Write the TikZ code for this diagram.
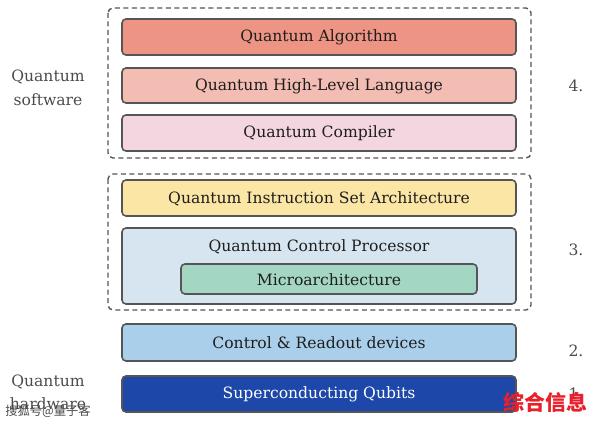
\documentclass[tikz,border=0pt]{standalone}
\usepackage{fontspec}
\setmainfont{DejaVu Serif}
\newfontfamily\cjk{Noto Sans CJK SC}
\definecolor{cAlg}{HTML}{EE9484}
\definecolor{cHL}{HTML}{F4BDB4}
\definecolor{cComp}{HTML}{F3D6E0}
\definecolor{cISA}{HTML}{FCE6A6}
\definecolor{cCP}{HTML}{D7E5F0}
\definecolor{cMicro}{HTML}{A4D6C4}
\definecolor{cCR}{HTML}{AACFEB}
\definecolor{cQ}{HTML}{1D48AA}
\definecolor{cBorder}{HTML}{555555}
\definecolor{cText}{HTML}{1E1E1E}
\definecolor{cRed}{HTML}{E8202A}
\tikzset{
  layer/.style={draw=cBorder, line width=1.6pt, rounded corners=4pt},
  group/.style={draw=cBorder, dash pattern=on 5pt off 3.5pt, line width=1.4pt, rounded corners=5pt},
  lbl/.style={font=\fontsize{15.6}{18}\selectfont, text=cText, inner sep=0pt},
  side/.style={font=\fontsize{15.6}{23.5}\selectfont, text=cText!80, align=center, inner sep=0pt},
  numlbl/.style={font=\fontsize{15.6}{18}\selectfont, text=cText!80, inner sep=0pt},
  wmark/.style={inner sep=0pt}
}
\begin{document}
\begin{tikzpicture}[x=1pt,y=-1pt]
\useasboundingbox (0,0) rectangle (594,422);
% groups
\draw[group] (108,8) rectangle (531,158);
\draw[group] (108,174) rectangle (531,310);
% layers
\draw[layer, fill=cAlg] (122,19) rectangle (516,55);
\node[lbl] (alg) at (319,37.5) {Quantum Algorithm};
\draw[layer, fill=cHL] (122,68) rectangle (516,103);
\node[lbl] (hl) at (319,86) {Quantum High-Level Language};
\draw[layer, fill=cComp] (122,115) rectangle (516,151);
\node[lbl] (comp) at (319,133.5) {Quantum Compiler};
\draw[layer, fill=cISA] (122,180) rectangle (516,216);
\node[lbl] (isa) at (319,198.5) {Quantum Instruction Set Architecture};
\draw[layer, fill=cCP] (122,228) rectangle (516,304);
\node[lbl] (cp) at (319,246.5) {Quantum Control Processor};
\draw[layer, fill=cMicro] (181,264) rectangle (477,294);
\node[lbl] (micro) at (329,279.5) {Microarchitecture};
\draw[layer, fill=cCR] (122,324) rectangle (516,361);
\node[lbl] (cr) at (319,342.5) {Control \& Readout devices};
\draw[layer, fill=cQ] (122,376) rectangle (516,412);
\node[lbl, text=white] (qb) at (319,394.5) {Superconducting Qubits};
% side labels
\node[side] (sw) at (48,88) {Quantum\\software};
\node[side] (hw) at (48,392.5) {Quantum\\hardware};
\node[numlbl] (n4) at (576,85.5) {4.};
\node[numlbl] (n3) at (576,249.5) {3.};
\node[numlbl] (n2) at (576,350.5) {2.};
\node[numlbl] (n1) at (576,394) {1.};
% watermarks
\node[wmark, font=\cjk\fontsize{12.3}{12}\selectfont, text=black!70] (wm1) at (48,411) {搜狐号@量子客};
\node[wmark, font=\cjk\bfseries\fontsize{21}{21}\selectfont, text=cRed] (wm2) at (545.5,402.5) {综合信息};
\end{tikzpicture}
\end{document}
